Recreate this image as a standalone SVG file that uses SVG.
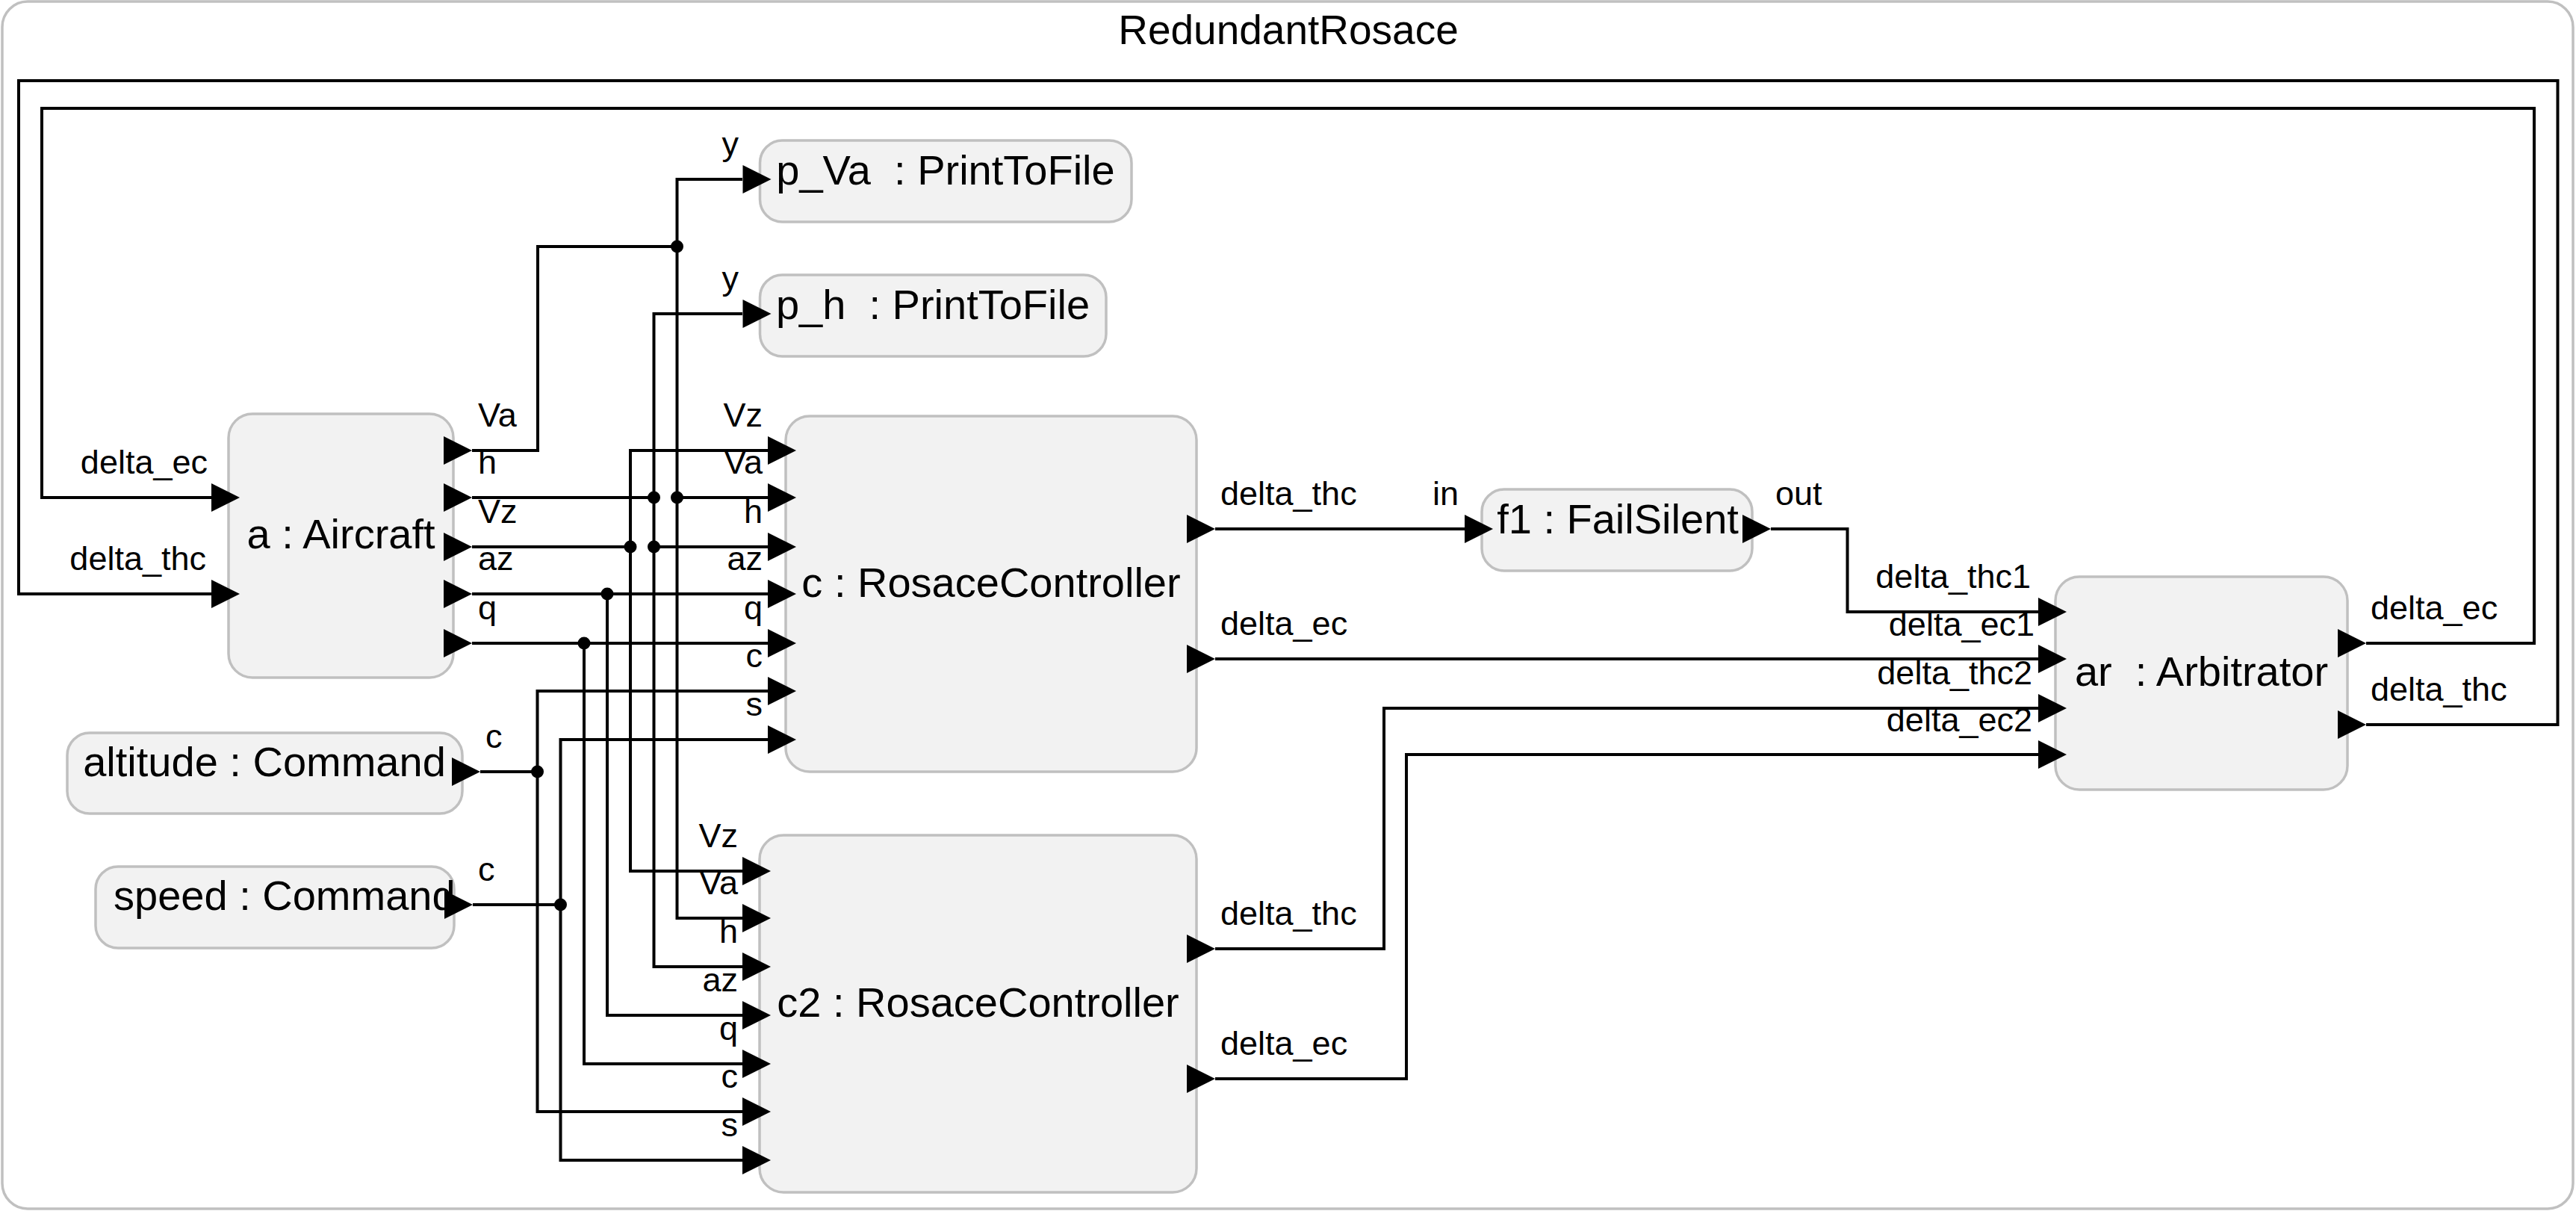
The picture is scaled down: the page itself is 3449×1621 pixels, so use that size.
<svg xmlns="http://www.w3.org/2000/svg" width="3449" height="1621" viewBox="0 0 3449 1621">
<style>
.frame{fill:#ffffff;stroke:#c0c0c0;stroke-width:3.5}
.node{fill:#f2f2f2;stroke:#c0c0c0;stroke-width:3.5}
.title{font-family:"Liberation Sans",Arial,Helvetica,sans-serif;font-size:55px;fill:#000;text-anchor:middle}
.nl{font-family:"Liberation Sans",Arial,Helvetica,sans-serif;font-size:56px;fill:#000;text-anchor:middle}
.pl{font-family:"Liberation Sans",Arial,Helvetica,sans-serif;font-size:45px;fill:#000}
.e{text-anchor:end}
.s{text-anchor:start}
.wire{fill:none;stroke:#000;stroke-width:4}
.dot{fill:#000}
.arr{fill:#000}
</style>
<defs>
<path id="tri" class="arr" d="M0,-19 L38,0 L0,19 Z"/>
</defs>
<rect class="frame" x="3" y="2" width="3442" height="1616" rx="34"/>
<text class="title" x="1725" y="59">RedundantRosace</text>

<g id="connectors">
<path class="wire" d="M632,603 H720 V330 H906.5 V240 H994"/>
<path class="wire" d="M906.5,330 V666 H1028"/>
<path class="wire" d="M906.5,666 V1229 H994"/>
<path class="wire" d="M632,666 H875.5 V420 H994"/>
<path class="wire" d="M875.5,666 V732 H1028"/>
<path class="wire" d="M875.5,732 V1294 H994"/>
<path class="wire" d="M632,732 H844 V603 H1028"/>
<path class="wire" d="M844,732 V1166 H994"/>
<path class="wire" d="M632,795 H1028"/>
<path class="wire" d="M813,795 V1359 H994"/>
<path class="wire" d="M632,861 H1028"/>
<path class="wire" d="M782,861 V1424 H994"/>
<path class="wire" d="M643,1033 H719.5 V925 H1028"/>
<path class="wire" d="M719.5,1033 V1488 H994"/>
<path class="wire" d="M633,1211 H750.5 V990 H1028"/>
<path class="wire" d="M750.5,1211 V1553 H994"/>
<path class="wire" d="M1627,708 H1961"/>
<path class="wire" d="M2371,708 H2473.5 V819 H2729"/>
<path class="wire" d="M1627,882 H2729"/>
<path class="wire" d="M1627,1270 H1853 V948 H2729"/>
<path class="wire" d="M1627,1444 H1883 V1010 H2729"/>
<path class="wire" d="M3168,861 H3393 V145 H56 V666 H283"/>
<path class="wire" d="M3168,970 H3424.5 V108 H25 V795 H283"/>
<circle class="dot" cx="906.5" cy="330" r="8.5"/>
<circle class="dot" cx="906.5" cy="666" r="8.5"/>
<circle class="dot" cx="875.5" cy="666" r="8.5"/>
<circle class="dot" cx="875.5" cy="732" r="8.5"/>
<circle class="dot" cx="844" cy="732" r="8.5"/>
<circle class="dot" cx="813" cy="795" r="8.5"/>
<circle class="dot" cx="782" cy="861" r="8.5"/>
<circle class="dot" cx="719.5" cy="1033" r="8.5"/>
<circle class="dot" cx="750.5" cy="1211" r="8.5"/>
</g>

<g id="p_Va">
<rect class="node" x="1017.5" y="188" width="497.5" height="109" rx="30"/>
<text class="nl" x="1266" y="246.5" xml:space="preserve">p_Va  : PrintToFile</text>
<use href="#tri" x="994.5" y="240"/>
<text class="pl e" x="989" y="208">y</text>
</g>

<g id="p_h">
<rect class="node" x="1017.5" y="368" width="463.5" height="109" rx="30"/>
<text class="nl" x="1249" y="426.5" xml:space="preserve">p_h  : PrintToFile</text>
<use href="#tri" x="994.5" y="420"/>
<text class="pl e" x="989" y="388">y</text>
</g>

<g id="a">
<rect class="node" x="306" y="554" width="301" height="353" rx="32"/>
<text class="nl" x="456.5" y="734">a : Aircraft</text>
<use href="#tri" x="283" y="666"/>
<use href="#tri" x="283" y="795"/>
<text class="pl e" x="278" y="634">delta_ec</text>
<text class="pl e" x="276" y="763">delta_thc</text>
<use href="#tri" x="594" y="603"/>
<use href="#tri" x="594" y="666"/>
<use href="#tri" x="594" y="732"/>
<use href="#tri" x="594" y="795"/>
<use href="#tri" x="594" y="861"/>
<text class="pl s" x="640" y="571">Va</text>
<text class="pl s" x="640" y="634">h</text>
<text class="pl s" x="640" y="700">Vz</text>
<text class="pl s" x="640" y="763">az</text>
<text class="pl s" x="640" y="829">q</text>
</g>

<g id="c">
<rect class="node" x="1052" y="557" width="550" height="476" rx="32"/>
<text class="nl" x="1327" y="799">c : RosaceController</text>
<use href="#tri" x="1028" y="603"/>
<use href="#tri" x="1028" y="666"/>
<use href="#tri" x="1028" y="732"/>
<use href="#tri" x="1028" y="795"/>
<use href="#tri" x="1028" y="861"/>
<use href="#tri" x="1028" y="925"/>
<use href="#tri" x="1028" y="990"/>
<text class="pl e" x="1021" y="571">Vz</text>
<text class="pl e" x="1021" y="634">Va</text>
<text class="pl e" x="1021" y="700">h</text>
<text class="pl e" x="1021" y="763">az</text>
<text class="pl e" x="1021" y="829">q</text>
<text class="pl e" x="1021" y="893">c</text>
<text class="pl e" x="1021" y="958">s</text>
<use href="#tri" x="1589" y="708"/>
<use href="#tri" x="1589" y="882"/>
<text class="pl s" x="1634" y="676">delta_thc</text>
<text class="pl s" x="1634" y="850">delta_ec</text>
</g>

<g id="c2">
<rect class="node" x="1017" y="1118" width="585" height="478" rx="32"/>
<text class="nl" x="1309.5" y="1361">c2 : RosaceController</text>
<use href="#tri" x="994" y="1166"/>
<use href="#tri" x="994" y="1229"/>
<use href="#tri" x="994" y="1294"/>
<use href="#tri" x="994" y="1359"/>
<use href="#tri" x="994" y="1424"/>
<use href="#tri" x="994" y="1488"/>
<use href="#tri" x="994" y="1553"/>
<text class="pl e" x="988" y="1134">Vz</text>
<text class="pl e" x="988" y="1197">Va</text>
<text class="pl e" x="988" y="1262">h</text>
<text class="pl e" x="988" y="1327">az</text>
<text class="pl e" x="988" y="1392">q</text>
<text class="pl e" x="988" y="1456">c</text>
<text class="pl e" x="988" y="1521">s</text>
<use href="#tri" x="1589" y="1270"/>
<use href="#tri" x="1589" y="1444"/>
<text class="pl s" x="1634" y="1238">delta_thc</text>
<text class="pl s" x="1634" y="1412">delta_ec</text>
</g>

<g id="altitude">
<rect class="node" x="90" y="981" width="529" height="108" rx="30"/>
<text class="nl" x="354" y="1039">altitude : Command</text>
<use href="#tri" x="605" y="1033"/>
<text class="pl s" x="650" y="1001">c</text>
</g>

<g id="speed">
<rect class="node" x="128" y="1160" width="480" height="109" rx="30"/>
<text class="nl s" x="152" y="1218">speed : Command</text>
<use href="#tri" x="595" y="1211"/>
<text class="pl s" x="640" y="1179">c</text>
</g>

<g id="f1">
<rect class="node" x="1984" y="655" width="362" height="109" rx="30"/>
<text class="nl" x="2166" y="714">f1 : FailSilent</text>
<use href="#tri" x="1961" y="708"/>
<text class="pl e" x="1953" y="676">in</text>
<use href="#tri" x="2333" y="708"/>
<text class="pl s" x="2377" y="676">out</text>
</g>

<g id="ar">
<rect class="node" x="2752" y="772" width="391" height="285" rx="32"/>
<text class="nl" x="2947.5" y="918" xml:space="preserve">ar  : Arbitrator</text>
<use href="#tri" x="2729" y="819"/>
<use href="#tri" x="2729" y="882"/>
<use href="#tri" x="2729" y="948"/>
<use href="#tri" x="2729" y="1010"/>
<text class="pl e" x="2719" y="787">delta_thc1</text>
<text class="pl e" x="2724" y="851">delta_ec1</text>
<text class="pl e" x="2721" y="916">delta_thc2</text>
<text class="pl e" x="2721" y="979">delta_ec2</text>
<use href="#tri" x="3130" y="861"/>
<use href="#tri" x="3130" y="970"/>
<text class="pl s" x="3174" y="829">delta_ec</text>
<text class="pl s" x="3174" y="938">delta_thc</text>
</g>
</svg>
